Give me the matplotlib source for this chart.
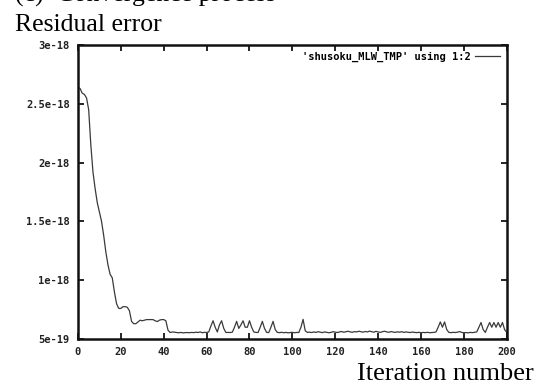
import matplotlib.pyplot as plt
from matplotlib.ticker import MultipleLocator, FixedLocator

# residual error per iteration (units of 1e-18)
resid_0_49 = [2.64, 2.63, 2.59, 2.58, 2.55, 2.45, 2.15, 1.92, 1.78, 1.66,
              1.58, 1.50, 1.38, 1.24, 1.13, 1.05, 1.02, 0.90, 0.80, 0.76,
              0.76, 0.775, 0.775, 0.77, 0.74, 0.65, 0.63, 0.63, 0.645, 0.66,
              0.655, 0.66, 0.665, 0.665, 0.665, 0.665, 0.655, 0.648, 0.66, 0.665,
              0.665, 0.655, 0.575, 0.555, 0.56, 0.558, 0.555, 0.553, 0.556, 0.552]
resid_50_99 = [0.554, 0.555, 0.553, 0.556, 0.554, 0.558, 0.555, 0.56, 0.553, 0.557,
               0.555, 0.56, 0.61, 0.655, 0.6, 0.56, 0.62, 0.655, 0.59, 0.555,
               0.556, 0.555, 0.558, 0.6, 0.65, 0.59, 0.62, 0.655, 0.6, 0.6,
               0.655, 0.6, 0.56, 0.556, 0.555, 0.6, 0.65, 0.59, 0.556, 0.555,
               0.6, 0.65, 0.58, 0.556, 0.554, 0.557, 0.553, 0.556, 0.552, 0.555]
resid_100_149 = [0.557, 0.553, 0.556, 0.555, 0.6, 0.667, 0.57, 0.556, 0.558, 0.555,
                 0.56, 0.556, 0.562, 0.558, 0.554, 0.56, 0.557, 0.553, 0.556, 0.562,
                 0.558, 0.555, 0.56, 0.564, 0.557, 0.562, 0.566, 0.56, 0.557, 0.563,
                 0.56, 0.566, 0.562, 0.558, 0.564, 0.56, 0.567, 0.562, 0.558, 0.565,
                 0.56, 0.556, 0.562, 0.566, 0.56, 0.557, 0.563, 0.559, 0.556, 0.561]
resid_150_200 = [0.558, 0.562, 0.556, 0.56, 0.557, 0.555, 0.559, 0.556, 0.554, 0.557,
                 0.553, 0.556, 0.554, 0.557, 0.553, 0.555, 0.556, 0.56, 0.6, 0.645,
                 0.6, 0.645, 0.58, 0.556, 0.554, 0.557, 0.555, 0.558, 0.563, 0.556,
                 0.553, 0.555, 0.552, 0.556, 0.554, 0.557, 0.56, 0.6, 0.64, 0.58,
                 0.556, 0.6, 0.64, 0.6, 0.64, 0.6, 0.64, 0.6, 0.64, 0.58,
                 0.556]

resid = resid_0_49 + resid_50_99 + resid_100_149 + resid_150_200
iters = list(range(len(resid)))
resid = [v * 1e-18 for v in resid]

yticks = [5e-19, 1e-18, 1.5e-18, 2e-18, 2.5e-18, 3e-18]
ytick_labels = ['5e-19', '1e-18', '1.5e-18', '2e-18', '2.5e-18', '3e-18']
legend_label = "'shusoku_MLW_TMP' using 1:2"

fig = plt.figure(figsize=(5.34, 3.85), dpi=100)
ax = fig.add_axes([0.146, 0.1195, 0.803, 0.7635])

ax.plot(iters, resid, color='#3a3a3a', lw=0.9, label=legend_label)
ax.set_xlim(0, 200)
ax.set_ylim(5e-19, 3e-18)
ax.xaxis.set_major_locator(MultipleLocator(20))
ax.yaxis.set_major_locator(FixedLocator(yticks))
ax.set_yticklabels(ytick_labels)

mono = {'family': 'DejaVu Sans Mono', 'size': 7.5, 'weight': 'bold'}
for lab in ax.get_xticklabels() + ax.get_yticklabels():
    lab.set_fontfamily(mono['family'])
    lab.set_fontsize(mono['size'])
    lab.set_fontweight(mono['weight'])
    lab.set_color('#222222')

ax.tick_params(direction='in', top=True, right=True, length=4, width=1.2, pad=6)
for s in ax.spines.values():
    s.set_linewidth(1.8)
    s.set_color('#111111')

leg = ax.legend(loc='upper right', frameon=False, handlelength=2.4,
                handletextpad=0.4, borderaxespad=0.25, markerfirst=False,
                prop=mono)

fig.text(0.028, 0.997, '(c)  Convergence process', family='Liberation Serif',
         fontsize=18.5, va='baseline')
fig.text(0.028, 0.92, 'Residual error', family='Liberation Serif',
         fontsize=18.5, va='baseline')
fig.text(0.999, 0.014, 'Iteration number', family='Liberation Serif',
         fontsize=19, ha='right', va='baseline')

fig.savefig('out.png', dpi=100)
